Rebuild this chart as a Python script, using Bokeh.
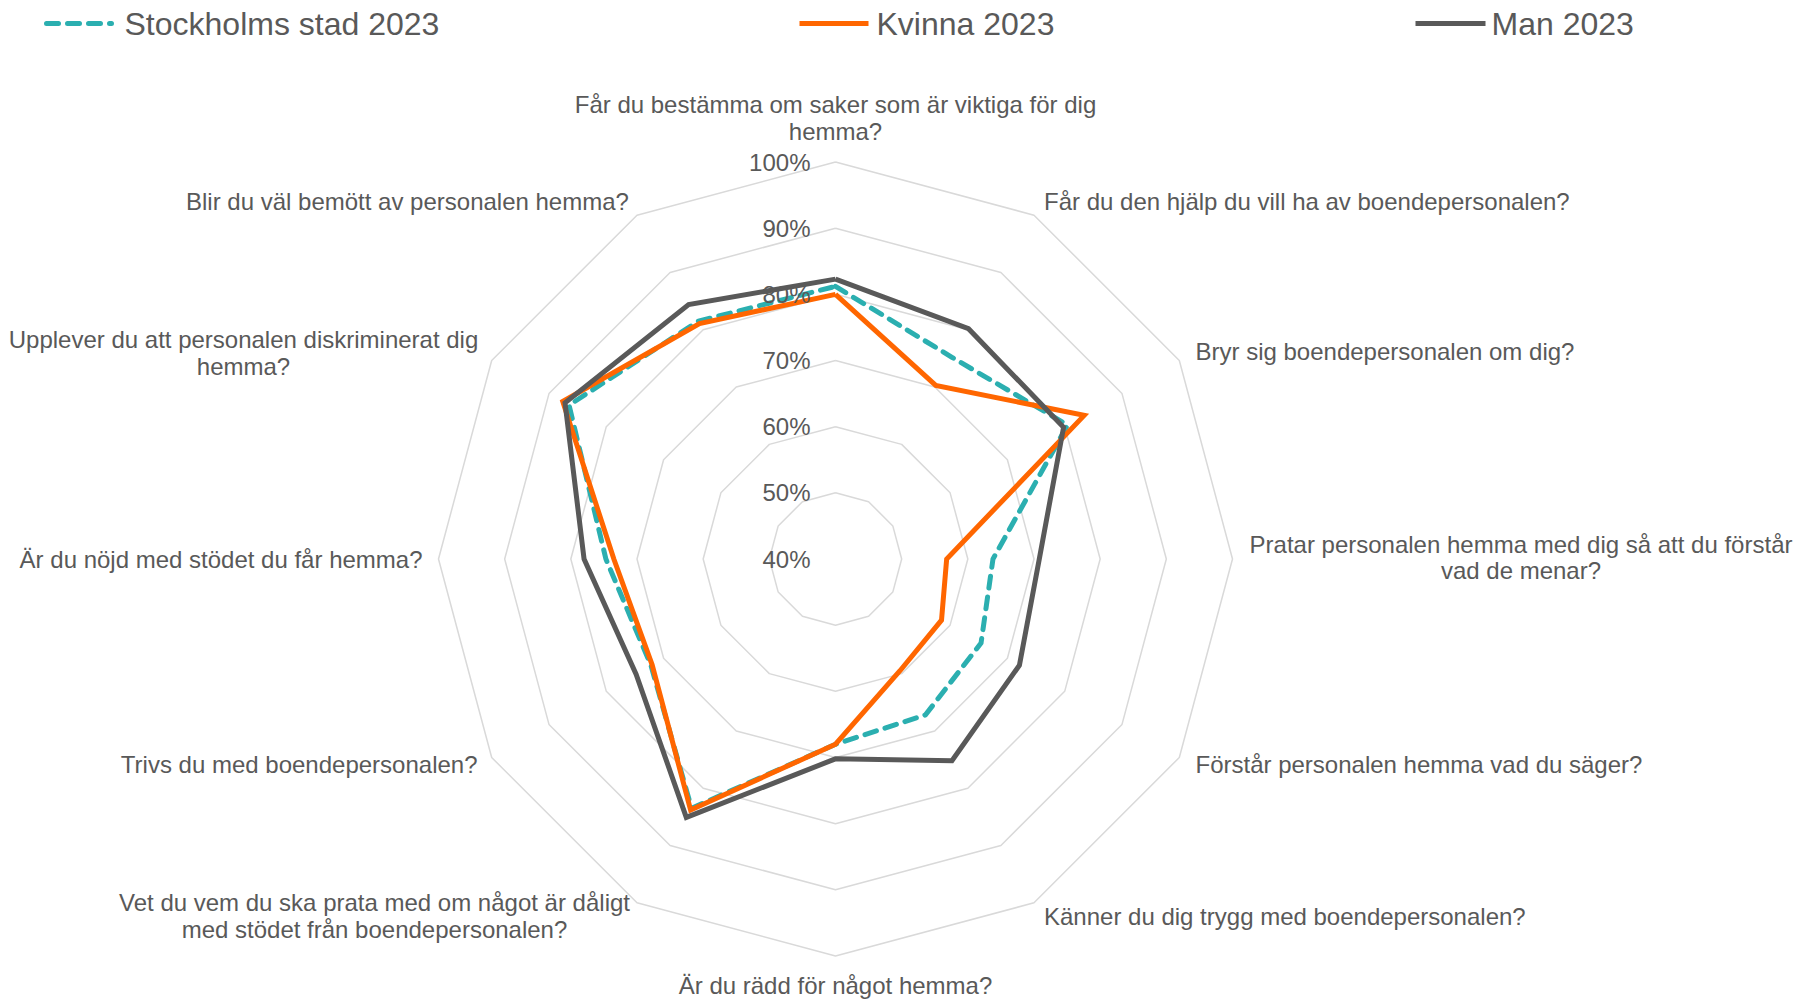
import math
from bokeh.plotting import figure
from bokeh.models import Range1d
from bokeh.core.properties import value
from bokeh.embed import file_html
from bokeh.resources import INLINE

# ---------------- data ----------------
questions = [
    "Får du bestämma om saker som är viktiga för dig\nhemma?",
    "Får du den hjälp du vill ha av boendepersonalen?",
    "Bryr sig boendepersonalen om dig?",
    "Pratar personalen hemma med dig så att du förstår\nvad de menar?",
    "Förstår personalen hemma vad du säger?",
    "Känner du dig trygg med boendepersonalen?",
    "Är du rädd för något hemma?",
    "Vet du vem du ska prata med om något är dåligt\nmed stödet från boendepersonalen?",
    "Trivs du med boendepersonalen?",
    "Är du nöjd med stödet du får hemma?",
    "Upplever du att personalen diskriminerat dig\nhemma?",
    "Blir du väl bemött av personalen hemma?",
]
series_names = ["Stockholms stad 2023", "Kvinna 2023", "Man 2023"]
stockholm = [81.2, 75.2, 80.5, 63.8, 65.4, 67.2, 68.0, 83.5, 72.2, 74.7, 86.5, 81.5]
kvinna = [80.0, 70.3, 83.4, 56.8, 58.5, 59.5, 68.0, 83.8, 72.0, 73.5, 87.6, 81.1]
man = [82.3, 80.2, 79.8, 70.8, 72.1, 75.2, 70.2, 85.1, 74.8, 78.0, 87.2, 84.4]
ticks = [40, 50, 60, 70, 80, 90, 100]
tick_labels = ["40%", "50%", "60%", "70%", "80%", "90%", "100%"]

# ---------------- layout ----------------
W, H = 1798, 999
MARGIN = 0
TXT = "#595959"
GRID = "#D9D9D9"
FONT = "Liberation Sans"
colors = ["#2BAFB0", "#FF6600", "#595959"]
dashes = ["12 9", "solid", "solid"]

def sx(X):
    return X - MARGIN

def sy(Y):
    return H - (Y - MARGIN)

CX, CY = sx(835), sy(558.5)
R100 = 397.0
VMIN, VMAX = 40.0, 100.0

def rad(v):
    return (v - VMIN) / (VMAX - VMIN) * R100

def polar(vals):
    n = len(vals)
    xs, ys = [], []
    for i, v in enumerate(vals):
        th = 2 * math.pi * i / n
        r = rad(v)
        xs.append(CX + r * math.sin(th))
        ys.append(CY + r * math.cos(th))
    xs.append(xs[0]); ys.append(ys[0])
    return xs, ys

p = figure(width=W, height=H, output_backend="svg", toolbar_location=None,
           x_range=Range1d(0, W), y_range=Range1d(0, H),
           min_border=0, outline_line_color=None)
p.axis.visible = False
p.grid.visible = False
p.background_fill_color = "white"
p.border_fill_color = "white"

n = len(questions)
# grid rings
for t in ticks[1:]:
    xs, ys = polar([t] * n)
    p.line(xs, ys, line_color=GRID, line_width=1.5)

# series
for vals, c, d in zip([stockholm, kvinna, man], colors, dashes):
    xs, ys = polar(vals)
    p.line(xs, ys, line_color=c, line_width=5, line_dash=d,
           line_cap="round" if d != "solid" else "butt", line_join="miter")

# tick labels
p.text(x=[sx(810)] * len(ticks), y=[CY + rad(t) for t in ticks], text=tick_labels,
       text_align="right", text_baseline="middle", text_font=value(FONT),
       text_font_size="24px", text_color=TXT)

# axis labels: (screen x, screen y of first line, align)
label_pos = [
    (835, 104.3, "center"),
    (1043.5, 200.7, "left"),
    (1195, 351, "left"),
    (1520.5, 543.5, "center"),
    (1195, 763.7, "left"),
    (1043.5, 916, "left"),
    (835, 985, "center"),
    (374, 902.4, "center"),
    (477, 763.7, "right"),
    (422, 558.5, "right"),
    (243, 339.4, "center"),
    (628.4, 200.7, "right"),
]
LH = 26.4
for q, (X, Y, al) in zip(questions, label_pos):
    for k, line in enumerate(q.split("\n")):
        p.text(x=[sx(X)], y=[sy(Y + k * LH)], text=[line], text_align=al,
               text_baseline="middle", text_font=value(FONT),
               text_font_size="24px", text_color=TXT)

# legend
leg = [(46, 111, 124), (799, 868, 876), (1415, 1485, 1491)]
LY = sy(23)
for (x0, x1, xt), name, c, d in zip(leg, series_names, colors, dashes):
    p.line([sx(x0), sx(x1)], [LY, LY], line_color=c, line_width=5,
           line_dash=d, line_cap="round" if d != "solid" else "butt")
    p.text(x=[sx(xt)], y=[LY], text=[name], text_align="left",
           text_baseline="middle", text_font=value(FONT),
           text_font_size="32px", text_color=TXT)

open("out.html", "w").write(file_html(p, INLINE))
